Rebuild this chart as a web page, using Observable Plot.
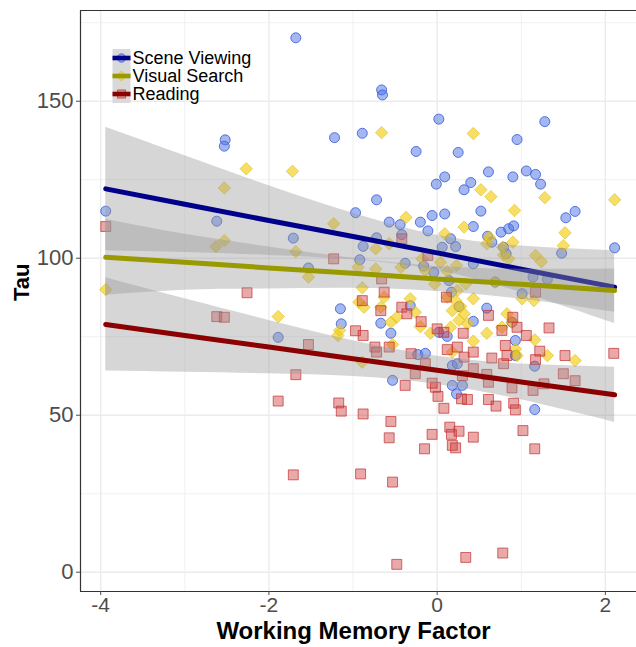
<!DOCTYPE html>
<html>
<head>
<meta charset="utf-8">
<script src="https://cdn.jsdelivr.net/npm/d3@7"></script>
<script src="https://cdn.jsdelivr.net/npm/@observablehq/plot@0.6"></script>
<style>
  body { margin: 0; background: #ffffff; }
  #chart svg { display: block; }
</style>
</head>
<body>
<div id="chart"></div>
<script>
// ---------- data ----------
const seriesNames = ["Scene Viewing", "Visual Search", "Reading"];

const sceneX = [-1.68,-0.66,-0.65,-3.94,-2.52,-2.53,-1.22,-0.89,-0.97,0.02,1.28,0.95,-0.25,0.25,0.61,1.06,1.17,1.23,0.90,0.09,-0.01,0.40,0.32,-0.72,-0.06,0.09,0.52,1.53,1.64,-0.57,-0.20,-0.44,-0.11,0.43,0.60,0.76,0.85,0.91,2.11,-0.42,-0.88,0.16,0.22,-0.92,-0.38,-0.16,-0.04,0.43,0.79,0.82,1.14,1.31,1.48,0.17,1.01,-0.32,0.59,-1.15,-0.67,-0.55,0.43,0.02,0.12,0.26,0.93,-0.23,-0.14,-0.53,0.18,0.24,1.16,0.18,0.30,0.23,1.16,-2.62,-1.71,-1.53,-1.14,-1.89,0.89,0.93,0.69,0.65,-0.72,0.06,0.14];
const sceneY = [170.2,153.6,152.0,115.0,137.7,135.7,138.4,139.8,114.5,144.3,143.5,137.8,134.0,133.7,127.5,127.8,126.7,123.6,125.9,125.9,123.6,124.1,121.8,118.6,113.6,114.1,115.0,112.9,114.9,111.5,111.5,110.7,108.7,110.1,107.0,108.3,109.4,110.3,103.3,107.5,103.8,106.2,103.7,99.5,98.4,97.5,95.5,98.2,103.5,101.4,94.0,93.3,101.6,89.2,88.7,84.9,84.1,83.9,79.3,76.1,79.9,76.4,75.1,84.6,73.8,69.3,69.7,61.1,65.8,66.4,65.6,59.5,59.5,56.8,51.8,111.8,106.4,96.9,79.1,74.8,79.6,69.0,92.4,105.1,106.5,103.5,92.9];

const searchX = [-2.27,-1.72,-2.53,-0.66,0.43,0.52,0.64,1.28,2.11,0.92,-0.37,-1.23,-2.63,-2.53,-1.68,-1.53,-3.94,-1.89,-1.16,-1.18,0.32,0.09,0.62,0.59,0.90,1.52,1.50,1.17,1.24,-0.73,-0.57,-0.94,-0.73,-0.43,-0.18,-0.14,0.04,0.12,0.23,-0.03,0.24,0.34,0.69,0.79,0.85,0.78,-0.89,-0.93,-0.87,-0.63,-0.67,-0.32,-0.26,-0.48,-0.55,-0.20,-0.08,0.12,0.22,0.28,0.18,0.32,0.26,0.36,0.16,0.43,0.43,0.59,0.83,0.89,0.77,1.16,1.31,1.64,0.93,0.95,0.18,-0.53,-0.89,1.01,1.15];
const searchY = [128.5,127.7,122.4,140.0,139.7,121.8,119.6,119.3,118.6,115.2,113.0,111.0,103.7,105.6,102.1,94.0,90.0,81.4,77.0,75.4,109.9,107.8,106.7,104.6,105.1,108.1,104.0,100.9,98.9,103.0,104.6,97.1,96.6,97.1,99.8,96.1,98.7,95.8,97.7,91.8,89.7,91.8,92.4,101.0,99.8,103.5,90.6,86.0,84.4,87.6,84.4,87.1,82.8,81.2,79.6,78.2,76.1,87.6,86.5,84.6,83.3,82.3,80.2,79.1,78.0,87.1,73.6,76.1,82.3,79.6,78.0,74.0,69.0,67.4,71.1,69.0,70.1,72.5,66.9,87.1,86.5];

const readingX = [-3.94,-1.23,-2.26,-2.62,-2.53,-1.53,-1.68,-1.89,-1.17,-1.14,-1.71,-0.91,-0.88,-0.55,-0.57,-0.53,-0.48,-0.15,-0.06,0.15,0.17,0.26,0.18,0.22,0.43,0.34,0.78,1.02,1.16,0.08,0.01,-0.02,-0.06,-0.38,0.36,0.29,0.61,0.70,0.91,0.93,0.89,1.14,1.64,0.61,-0.42,-0.66,-0.11,-0.63,-0.89,-0.42,-0.36,-0.67,-0.19,-0.97,-0.88,-0.74,-0.57,-0.72,-0.31,0.11,0.08,0.00,0.31,0.12,0.24,0.43,0.32,0.61,0.77,0.95,1.06,1.33,0.81,0.83,0.79,1.22,1.52,2.10,1.50,0.43,0.30,-0.26,-0.14,0.59,1.17,0.90,0.65,1.17,1.27];
const readingY = [110.1,99.8,89.0,81.4,81.2,72.5,62.9,54.5,53.9,51.3,31.0,31.3,50.4,48.0,42.8,28.7,2.5,39.3,43.9,46.2,43.9,44.9,40.4,39.6,43.0,4.7,6.1,45.1,39.3,52.2,56.0,58.9,60.2,59.5,55.0,55.2,55.0,52.9,53.8,51.7,58.7,57.9,61.0,60.5,106.2,93.4,100.9,89.2,86.5,84.4,82.3,83.3,79.8,76.9,75.4,71.7,71.7,70.1,69.6,87.6,76.4,77.5,76.1,70.9,71.7,70.1,68.5,81.8,77.0,78.0,75.4,77.8,72.2,69.0,66.4,70.4,69.0,69.7,63.2,64.8,62.6,63.2,66.4,63.0,89.2,81.2,68.2,67.7,60.0];

// fitted lines and confidence bands as drawn in the reference (read at these x positions)
const fitX = [-3.94, -3, -2, -1, 0, 1, 2.11];
const sceneFit   = [122.1, 117.2, 112.0, 106.9, 101.7, 96.5, 90.8];
const sceneHi    = [141.7, 132.6, 123.1, 114.3, 107.3, 103.9, 102.4];
const sceneLo    = [102.4, 101.8, 100.9,  99.5,  96.1,  89.1,  79.2];
const searchFit  = [100.3, 98.7, 96.9, 95.2, 93.4, 91.7, 89.7];
const searchHi   = [112.4, 107.6, 103.6, 100.0, 97.4, 96.5, 96.6];
const searchLo   = [ 88.2,  89.8,  90.2,  90.4, 89.4, 86.9, 82.8];
const readingFit = [78.9, 75.4, 71.7, 68.0, 64.3, 60.6, 56.5];
const readingHi  = [93.8, 87.1, 80.2, 73.7, 68.8, 66.3, 65.3];
const readingLo  = [64.1, 63.7, 63.2, 62.3, 59.8, 54.9, 47.7];

const xTicks = [-4, -2, 0, 2];
const xMinorTicks = [-3, -1, 1];
const yTicks = [0, 50, 100, 150];
const yMinorTicks = [25, 75, 125, 175];
const xDomain = [-4.24, 2.37];
const yDomain = [-6.15, 178.9];

// ---------- build tables ----------
const build = (name, xs, ys) => xs.map((x, i) => ({task: name, wm: x, tau: ys[i]}));
const sets = [
  build(seriesNames[0], sceneX, sceneY),
  build(seriesNames[1], searchX, searchY),
  build(seriesNames[2], readingX, readingY)
];
const bandOf = (fit, lo, hi) => fitX.map((x, i) => ({wm: x, fit: fit[i], lo: lo[i], hi: hi[i]}));
const bands = [
  bandOf(sceneFit, sceneLo, sceneHi),
  bandOf(searchFit, searchLo, searchHi),
  bandOf(readingFit, readingLo, readingHi)
];

// ---------- styles ----------
const lineColors = ["#00008b", "#999900", "#8b0000"];
const pointStyle = [
  {symbol: "circle", r: 5, fill: "#4a6fe3", fillOpacity: 0.5, stroke: "#3d5fd9", strokeOpacity: 0.85, strokeWidth: 1},
  {symbol: "diamond2", r: 5.6, fill: "#f2c900", fillOpacity: 0.6, stroke: "#e0bb20", strokeOpacity: 0.6, strokeWidth: 1},
  {symbol: "square", r: 5.6, fill: "#d04040", fillOpacity: 0.45, stroke: "#c03030", strokeOpacity: 0.7, strokeWidth: 1}
];
const keyBox = {draw(ctx) { ctx.rect(-9, -9, 18, 18); }};
const keyLine = {draw(ctx) { ctx.rect(-9, -2.3, 18, 4.6); }};
const keyPointR = [4.2, 4.6, 4.6];

const legendMarks = [];
seriesNames.forEach((name, i) => {
  const dy = 47.5 + 18 * i;
  legendMarks.push(
    Plot.dot([name], {frameAnchor: "top-left", dx: 41, dy, symbol: keyBox, r: 9, fill: "#d9d9d9", stroke: "none"}),
    Plot.dot([name], {frameAnchor: "top-left", dx: 41, dy, ...pointStyle[i], r: keyPointR[i]}),
    Plot.dot([name], {frameAnchor: "top-left", dx: 41, dy, symbol: keyLine, r: 9, fill: lineColors[i], stroke: "none"}),
    Plot.text([name], {frameAnchor: "top-left", dx: 52, dy: dy + 0.5, text: d => d, textAnchor: "start", lineAnchor: "middle", fontSize: 18, fill: "#000"})
  );
});

const fitMarks = [];
bands.forEach((b, i) => {
  fitMarks.push(
    Plot.areaY(b, {x: "wm", y1: "lo", y2: "hi", fill: "#999999", fillOpacity: 0.4, curve: "natural"}),
    Plot.line(b, {x: "wm", y: "fit", stroke: lineColors[i], strokeWidth: 5, curve: "linear"})
  );
});

const chart = Plot.plot({
  width: 636,
  height: 647,
  marginLeft: 80,
  marginRight: 0,
  marginTop: 10,
  marginBottom: 56,
  x: {domain: xDomain},
  y: {domain: yDomain},
  style: {fontFamily: "'Liberation Sans', Arial, sans-serif", background: "#ffffff", overflow: "visible"},
  marks: [
    Plot.gridX(xMinorTicks, {stroke: "#ebebeb", strokeOpacity: 1, strokeWidth: 0.7}),
    Plot.gridY(yMinorTicks, {stroke: "#ebebeb", strokeOpacity: 1, strokeWidth: 0.7}),
    Plot.gridX(xTicks, {stroke: "#ebebeb", strokeOpacity: 1, strokeWidth: 1.4}),
    Plot.gridY(yTicks, {stroke: "#ebebeb", strokeOpacity: 1, strokeWidth: 1.4}),
    ...sets.map((d, i) => Plot.dot(d, {x: "wm", y: "tau", ...pointStyle[i]})),
    ...fitMarks,
    Plot.ruleY([yDomain[0]], {stroke: "#333333", strokeWidth: 1.2}),
    Plot.ruleY([yDomain[1]], {stroke: "#333333", strokeWidth: 1.2}),
    Plot.ruleX([xDomain[0]], {stroke: "#333333", strokeWidth: 1.2}),
    Plot.axisX(xTicks, {tickSize: 4, tickPadding: 2, fontSize: 21, color: "#4d4d4d", tickFormat: d => String(d), label: null}),
    Plot.axisY(yTicks, {tickSize: 4, tickPadding: 3, fontSize: 22, color: "#4d4d4d", tickFormat: d => String(d), label: null}),
    Plot.text(["Tau"], {frameAnchor: "left", dx: -59, rotate: -90, text: d => d, fontSize: 22, fontWeight: "bold", fill: "#000"}),
    Plot.text(["Working Memory Factor"], {frameAnchor: "bottom", dx: -5, dy: 47, text: d => d, fontSize: 24, fontWeight: "bold", fill: "#000"}),
    ...legendMarks
  ]
});

document.getElementById("chart").appendChild(chart);
</script>
</body>
</html>
